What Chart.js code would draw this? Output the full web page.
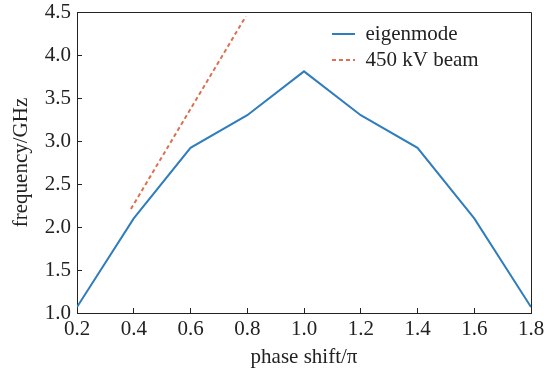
<!DOCTYPE html>
<html>
<head>
<meta charset="utf-8">
<script src="https://cdn.jsdelivr.net/npm/chart.js@4"></script>
<style>
  body { margin: 0; background: #fff; }
  canvas { display: block; }
</style>
</head>
<body>
<canvas id="dispersionChart" width="557" height="373"></canvas>
<script>
// phase shift (units of pi)
const phaseShift = [0.2, 0.4, 0.6, 0.8, 1.0, 1.2, 1.4, 1.6, 1.8];
// eigenmode frequency, GHz
const eigenFreq = [1.07, 2.10, 2.92, 3.30, 3.81, 3.30, 2.92, 2.10, 1.07];
// 450 kV beam line (two end points)
const beamPhase = [0.39, 0.795];
const beamFreq = [2.21, 4.45];
// axis ticks
const xTicks = [0.2, 0.4, 0.6, 0.8, 1.0, 1.2, 1.4, 1.6, 1.8];
const yTicks = [1.0, 1.5, 2.0, 2.5, 3.0, 3.5, 4.0, 4.5];

const ink = '#222222';
const serif = "'Liberation Serif', 'Times New Roman', serif";

// top and right spines of the frame
const framePlugin = {
    id: 'frame',
    afterDatasetsDraw(chart) {
        const a = chart.chartArea;
        const c = chart.ctx;
        c.save();
        c.strokeStyle = ink;
        c.lineWidth = 1;
        c.beginPath();
        c.moveTo(Math.round(a.left) + 0.5, Math.round(a.top) + 0.5);
        c.lineTo(Math.round(a.right) + 0.5, Math.round(a.top) + 0.5);
        c.lineTo(Math.round(a.right) + 0.5, Math.round(a.bottom) + 0.5);
        c.stroke();
        c.restore();
    }
};

// put the legend in the upper right corner of the plot
const legendPlace = {
    id: 'legendPlace',
    afterLayout(chart) {
        const lg = chart.legend;
        if (!lg) return;
        const w = lg.width;
        lg.left = chart.chartArea.left + 250;
        lg.right = lg.left + w;
        lg.top = chart.chartArea.top + 6.5;
    }
};

document.addEventListener('DOMContentLoaded', function() {
    const ctx = document.getElementById('dispersionChart');
    new Chart(ctx, {
        type: 'scatter',
        data: {
            datasets: [{
                label: 'eigenmode',
                data: phaseShift.map((x, i) => ({ x: x, y: eigenFreq[i] })),
                showLine: true,
                borderColor: '#2f7dbd',
                backgroundColor: '#2f7dbd',
                borderWidth: 2,
                pointRadius: 0,
                tension: 0
            }, {
                label: '450 kV beam',
                data: beamPhase.map((x, i) => ({ x: x, y: beamFreq[i] })),
                showLine: true,
                borderColor: '#de6f4f',
                backgroundColor: '#de6f4f',
                borderWidth: 2,
                borderDash: [4, 3],
                pointRadius: 0
            }]
        },
        options: {
            responsive: false,
            animation: false,
            layout: { padding: { top: 12, right: 26, left: 0, bottom: 0 } },
            plugins: {
                tooltip: { enabled: false },
                legend: {
                    position: 'chartArea',
                    align: 'start',
                    labels: {
                        boxWidth: 23,
                        boxHeight: 0,
                        padding: 5,
                        color: ink,
                        font: { family: serif, size: 21 }
                    }
                }
            },
            scales: {
                x: {
                    type: 'linear',
                    min: 0.2,
                    max: 1.8,
                    afterBuildTicks: s => { s.ticks = xTicks.map(v => ({ value: v })); },
                    afterFit: s => { s.height = 60; s.paddingLeft = 0; s.paddingRight = 0; },
                    grid: { drawOnChartArea: false, tickLength: -5, color: ink },
                    border: { color: ink, width: 1 },
                    ticks: {
                        color: ink,
                        padding: 9,
                        maxRotation: 0,
                        font: { family: serif, size: 21 },
                        callback: v => Number(v).toFixed(1)
                    },
                    title: {
                        display: true,
                        text: 'phase shift/π',
                        color: ink,
                        font: { family: serif, size: 21 },
                        padding: { top: 0, bottom: 3 }
                    }
                },
                y: {
                    min: 1.0,
                    max: 4.5,
                    afterBuildTicks: s => { s.ticks = yTicks.map(v => ({ value: v })); },
                    afterFit: s => { s.width = 77; s.paddingTop = 0; s.paddingBottom = 0; },
                    grid: { drawOnChartArea: false, tickLength: -5, color: ink },
                    border: { color: ink, width: 1 },
                    ticks: {
                        color: ink,
                        padding: 11,
                        font: { family: serif, size: 21 },
                        callback: v => Number(v).toFixed(1)
                    },
                    title: {
                        display: true,
                        text: 'frequency/GHz',
                        color: ink,
                        font: { family: serif, size: 21 },
                        padding: { top: 9, bottom: 0 }
                    }
                }
            }
        },
        plugins: [framePlugin, legendPlace]
    });
});
</script>
</body>
</html>
